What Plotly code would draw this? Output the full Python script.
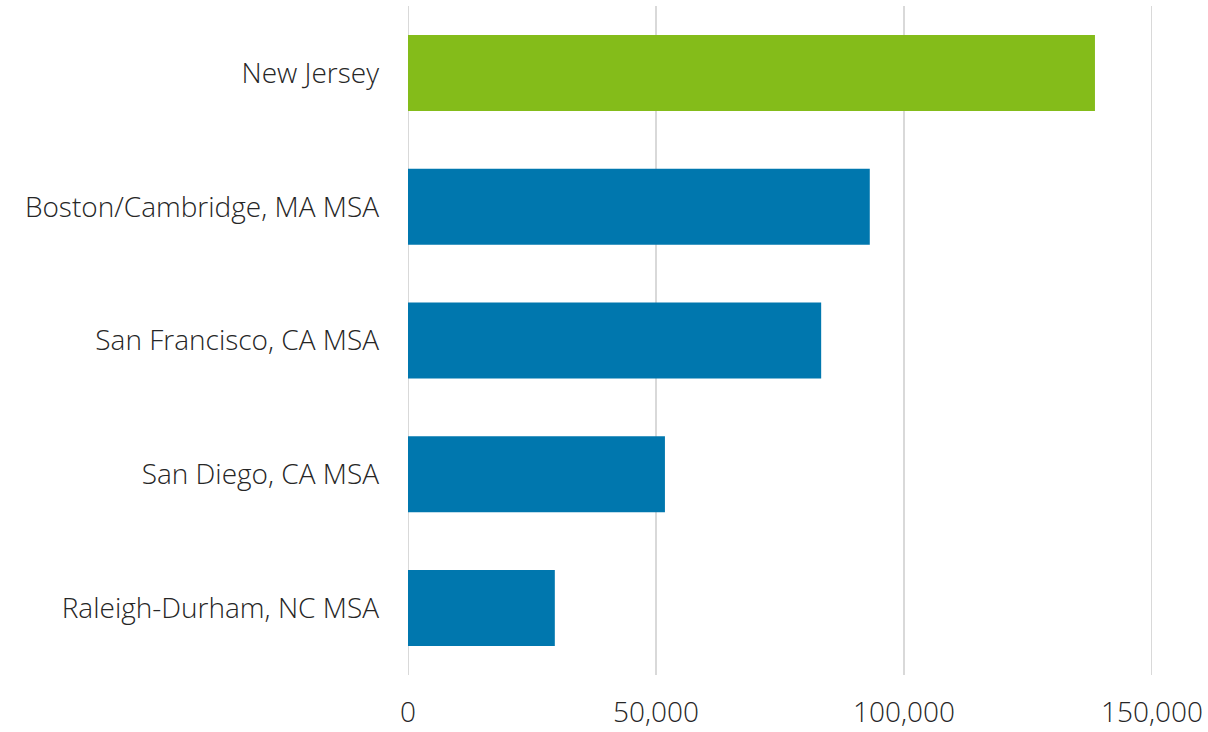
import plotly.graph_objects as go

categories = ["New Jersey", "Boston/Cambridge, MA MSA", "San Francisco, CA MSA",
              "San Diego, CA MSA", "Raleigh-Durham, NC MSA"]
values = [138500, 93100, 83300, 51800, 29600]
bar_colors = ["#84BC1A", "#0077AE", "#0077AE", "#0077AE", "#0077AE"]
tick_vals = [0, 50000, 100000, 150000]
tick_text = ["0", "50,000", "100,000", "150,000"]

fig = go.Figure(go.Bar(
    y=categories, x=values, orientation="h",
    marker=dict(color=bar_colors, line=dict(width=0)),
))

# gridlines (including those on the range edges)
for tv in tick_vals:
    fig.add_shape(type="line", xref="x", yref="paper", x0=tv, x1=tv, y0=0, y1=1,
                  line=dict(color="#D9D9D9", width=2), layer="below")

font_family = "Open Sans"
tf = dict(family=font_family, size=28, color="#262626", weight=300)
fig.update_layout(
    width=1208, height=732,
    margin=dict(l=408, r=56, t=6, b=57, autoexpand=False),
    paper_bgcolor="white", plot_bgcolor="white",
    bargap=0.432,
    showlegend=False,
    font=tf,
)
fig.update_xaxes(
    range=[0, 150000], tickvals=tick_vals, ticktext=tick_text,
    showgrid=False, zeroline=False, showline=False, ticks="", ticklabelstandoff=18,
    tickfont=tf, automargin=False,
)
fig.update_yaxes(
    autorange="reversed", showgrid=False, zeroline=False, showline=False,
    ticks="", ticklabelstandoff=28,
    tickfont=tf, automargin=False,
)
fig.write_html("out.html")
